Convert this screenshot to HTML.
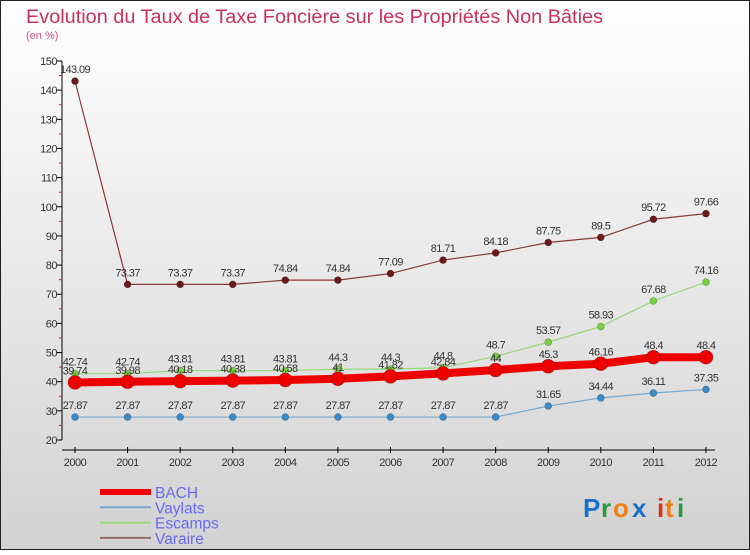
<!DOCTYPE html>
<html><head><meta charset="utf-8"><style>
body{margin:0;width:750px;height:550px;overflow:hidden;font-family:"Liberation Sans",sans-serif}
svg text{font-family:"Liberation Sans",sans-serif}
</style></head><body>
<svg id="chart" width="750" height="550" xmlns="http://www.w3.org/2000/svg">
<defs><linearGradient id="bg" x1="0" y1="0" x2="0" y2="1"><stop offset="0" stop-color="#ffffff"/><stop offset="1" stop-color="#d2d2d2"/></linearGradient></defs>
<rect x="0.5" y="0.5" width="749" height="549" fill="url(#bg)" stroke="#222"/>
<text x="26" y="23" font-size="19" fill="#c8305a" textLength="577" lengthAdjust="spacingAndGlyphs">Evolution du Taux de Taxe Foncière sur les Propriétés Non Bâties</text>
<text x="26" y="39" font-size="11" fill="#d0507a">(en %)</text>
<g id="axes"></g>
<g id="series"></g>
<g id="legend"></g>
<g font-size="26" font-weight="bold">
<text x="583" y="517" fill="#1a70c8">P</text><text x="601" y="517" fill="#2a9a3a">r</text><text x="613" y="517" fill="#f08010">o</text><text x="632" y="517" fill="#1a70c8">x</text><text x="657" y="517" fill="#e03010">i</text><text x="665" y="517" fill="#f08010">t</text><text x="677" y="517" fill="#2a9a3a">i</text>
</g>
</svg>
<script>
const years=[2000,2001,2002,2003,2004,2005,2006,2007,2008,2009,2010,2011,2012];
const yTicks=[20,30,40,50,60,70,80,90,100,110,120,130,140,150];
const bach=[39.74,39.98,40.18,40.38,40.58,41,41.82,42.84,44,45.3,46.16,48.4,48.4];
const vaylats=[27.87,27.87,27.87,27.87,27.87,27.87,27.87,27.87,27.87,31.65,34.44,36.11,37.35];
const escamps=[42.74,42.74,43.81,43.81,43.81,44.3,44.3,44.8,48.7,53.57,58.93,67.68,74.16];
const varaire=[143.09,73.37,73.37,73.37,74.84,74.84,77.09,81.71,84.18,87.75,89.5,95.72,97.66];
const NS='http://www.w3.org/2000/svg';
const xs=i=>75+i*52.58;
const ys=v=>440-(v-20)*(379/130);
function mk(t,a,p){const e=document.createElementNS(NS,t);for(const k in a)e.setAttribute(k,a[k]);p.appendChild(e);return e;}
const ax=document.getElementById('axes');
let yl=mk('line',{x1:62,y1:61,x2:62,y2:440,stroke:'#000'},ax);


yTicks.forEach(t=>{const y=ys(t);
 mk('line',{x1:57,y1:y,x2:62,y2:y,stroke:'#000'},ax);
 if(t<150)mk('line',{x1:59,y1:ys(t+5),x2:62,y2:ys(t+5),stroke:'#e02020'},ax);
 const tx=mk('text',{x:57,y:y+4,'font-size':11,fill:'#333','text-anchor':'end','letter-spacing':'-0.5'},ax);
 tx.textContent=t;
 
 
});
let xl=mk('line',{x1:62,y1:450,x2:715,y2:450,stroke:'#000'},ax);


years.forEach((yr,i)=>{const x=xs(i);
 mk('line',{x1:x,y1:447,x2:x,y2:453,stroke:'#000'},ax);
 const tx=mk('text',{x:x,y:466,'font-size':11,fill:'#333','text-anchor':'middle','letter-spacing':'-0.5'},ax);
 tx.textContent=yr;
 
 
});
const sg=document.getElementById('series');
function series(name,data,color,lw,r,dot){
 const g=mk('g',{},sg);
 
 
 const l=mk('polyline',{points:data.map((v,i)=>xs(i)+','+ys(v)).join(' '),fill:'none',stroke:color,'stroke-width':lw},g);
 
 
 data.forEach((v,i)=>{
  const c=mk('circle',{cx:xs(i),cy:ys(v),r:r,fill:dot,stroke:'rgba(0,0,0,0.3)','stroke-width':0.6},g);
  
  
  const t=mk('text',{x:xs(i),y:ys(v)-8,'font-size':11,fill:'#333','text-anchor':'middle','letter-spacing':'-0.6'},g);
  t.textContent=String(v);
  
  
 });
}
series('varaire',varaire,'#8a3a3a',1.2,3.5,'#6a1a1a');
series('vaylats',vaylats,'#78a8d0',1.2,3.5,'#3a8ac8');
series('escamps',escamps,'#98d878',1.2,3.5,'#78d040');
series('bach',bach,'#ee0000',8,7,'#ee0000');
const lg=document.getElementById('legend');
[['BACH','#ee0000',6],['Vaylats','#78a8d0',2],['Escamps','#98d878',2],['Varaire','#9a6a6a',2]].forEach((d,i)=>{
 const y=492+i*15.3;
 const g=mk('g',{},lg);
 
 
 mk('line',{x1:100,y1:y,x2:151,y2:y,stroke:d[1],'stroke-width':d[2]},g);
 const t=mk('text',{x:155,y:y+6,'font-size':15.5,fill:'#6a6af0'},g);
 t.textContent=d[0];
});
</script>
</body></html>
